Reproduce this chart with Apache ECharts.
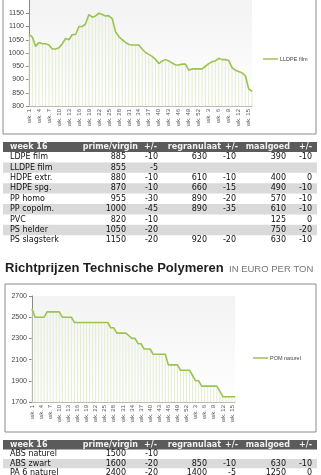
<!DOCTYPE html>
<html>
<head>
<meta charset="utf-8">
<script src="https://cdn.jsdelivr.net/npm/echarts@6/dist/echarts.min.js"></script>
<style>
  html, body { margin: 0; padding: 0; background: #fff; }
  #main { width: 321px; height: 475px; }
</style>
</head>
<body>
<div id="main"></div>
<script>
// weken: wk. 1 .. wk. 52, daarna wk. 1 .. wk. 16
const weeks = [];
for (let i = 1; i <= 52; i++) weeks.push('wk. ' + i);
for (let i = 1; i <= 16; i++) weeks.push('wk. ' + i);

const lldpeFilm = [1070,1060,1025,1040,1035,1035,1030,1015,1015,1020,
  1035,1055,1050,1070,1070,1100,1100,1110,1145,1135,
  1140,1150,1145,1140,1140,1130,1080,1062,1050,1040,
  1032,1030,1030,1030,1015,1002,995,987,976,960,
  970,975,970,962,955,955,958,958,935,940,
  940,940,940,950,960,967,970,980,975,975,
  972,945,935,930,925,915,865,855];

const pomNaturel = [2580,2500,2500,2500,2500,2550,2550,2550,2550,2550,
  2500,2500,2500,2500,2450,2450,2450,2450,2450,2450,
  2450,2450,2450,2450,2450,2450,2400,2400,2350,2350,
  2350,2350,2325,2300,2300,2250,2250,2200,2200,2200,
  2150,2150,2150,2150,2150,2050,2050,2050,2050,2000,
  2000,2000,2000,1950,1900,1900,1850,1850,1850,1850,
  1850,1850,1800,1750,1750,1750,1750,1750];

const tableHeader = ['week 16', 'prime/virgin', '+/-', 'regranulaat', '+/-', 'maalgoed', '+/-'];

// rijen: naam, prime/virgin, +/-, regranulaat, +/-, maalgoed, +/-
const standaardRows = [
  ['LDPE film', '885', '-10', '630', '-10', '390', '-10'],
  ['LLDPE film', '855', '-5', '', '', '', ''],
  ['HDPE extr.', '880', '-10', '610', '-10', '400', '0'],
  ['HDPE spg.', '870', '-10', '660', '-15', '490', '-10'],
  ['PP homo', '955', '-30', '890', '-20', '570', '-10'],
  ['PP copolm.', '1000', '-45', '890', '-35', '610', '-10'],
  ['PVC', '820', '-10', '', '', '125', '0'],
  ['PS helder', '1050', '-20', '', '', '750', '-20'],
  ['PS slagsterk', '1150', '-20', '920', '-20', '630', '-10']
];

const technischRows = [
  ['ABS naturel', '1500', '-10', '', '', '', ''],
  ['ABS zwart', '1600', '-20', '850', '-10', '630', '-10'],
  ['PA 6 naturel', '2400', '-20', '1400', '-5', '1250', '0']
];

const green = '#9bc34f';
const dropColor = '#e3edd2';
const tableFont = '"DejaVu Sans", sans-serif';

// kolomposities (rechts uitgelijnd behalve de naam)
const headerX = [10, 138, 157, 221, 238, 290, 312];
const cellX = [10, 126, 158, 207, 236, 286, 312];

function buildTable(top, headerH, rowH, rows) {
  const els = [];
  els.push({ type: 'rect', shape: { x: 3, y: top, width: 314, height: headerH },
    style: { fill: '#5b5b5b' } });
  tableHeader.forEach(function (h, c) {
    els.push({ type: 'text', x: headerX[c], y: top + headerH / 2,
      style: { text: h, fill: '#f2f2f2', font: 'bold 8px ' + tableFont,
        align: c === 0 ? 'left' : 'right', verticalAlign: 'middle' } });
  });
  rows.forEach(function (r, i) {
    const y0 = top + headerH + i * rowH;
    if (i % 2 === 1) {
      els.push({ type: 'rect', shape: { x: 3, y: y0, width: 314, height: rowH },
        style: { fill: '#dadada' } });
    }
    r.forEach(function (v, c) {
      if (v === '') return;
      els.push({ type: 'text', x: cellX[c], y: y0 + rowH / 2,
        style: { text: v, fill: '#111', font: '8px ' + tableFont,
          align: c === 0 ? 'left' : 'right', verticalAlign: 'middle' } });
    });
  });
  return els;
}

let myChart = echarts.init(document.getElementById('main'));

const yLabel = { fontSize: 7, color: '#444', margin: 5, fontFamily: 'Arial, sans-serif',
  showMaxLabel: false, formatter: function (v) { return String(v); } };
const yLabel2 = Object.assign({}, yLabel, { showMaxLabel: true });
const xLabel = { rotate: 90, fontSize: 6, color: '#555', interval: 2, margin: 3, fontFamily: 'Arial, sans-serif' };
const plotBg = new echarts.graphic.LinearGradient(0, 0, 0, 1, [
  { offset: 0, color: '#f3f3f3' }, { offset: 1, color: '#ffffff' }
]);

const graphics = [
  { type: 'rect', shape: { x: 3, y: -5, width: 313, height: 139 },
    style: { fill: 'none', stroke: '#8a8a8a', lineWidth: 1 }, z: 0 },
  { type: 'rect', shape: { x: 5, y: 284, width: 311, height: 148 },
    style: { fill: 'none', stroke: '#8a8a8a', lineWidth: 1 }, z: 0 },
  { type: 'text', x: 5, y: 268,
    style: { text: 'Richtprijzen Technische Polymeren', fill: '#1e1e1e',
      font: 'bold 13px "Liberation Sans Narrow", sans-serif', verticalAlign: 'middle' } },
  { type: 'text', x: 229, y: 269,
    style: { text: 'IN EURO PER TON', fill: '#777',
      font: '9.5px "Liberation Sans Narrow", sans-serif', verticalAlign: 'middle' } }
].concat(buildTable(142, 10, 10.4, standaardRows))
 .concat(buildTable(440, 9.5, 9.4, technischRows));

const option = {
  backgroundColor: '#fff',
  animation: false,
  graphic: graphics,
  legend: [
    { data: ['LLDPE film'], left: 263, top: 56, padding: 0, icon: 'rect', itemWidth: 15, itemHeight: 1.5,
      itemGap: 2, textStyle: { fontSize: 5.5, color: '#444', padding: [0, 0, 0, -3] } },
    { data: ['POM naturel'], left: 253, top: 355, padding: 0, icon: 'rect', itemWidth: 15, itemHeight: 1.5,
      itemGap: 2, textStyle: { fontSize: 5.5, color: '#444', padding: [0, 0, 0, -3] } }
  ],
  grid: [
    { left: 29, right: 69, top: -8, height: 114, show: true, backgroundColor: plotBg, borderWidth: 0 },
    { left: 32, right: 86, top: 296, height: 106, show: true, backgroundColor: plotBg, borderWidth: 0 }
  ],
  xAxis: [
    { type: 'category', gridIndex: 0, data: weeks, boundaryGap: false,
      axisLine: { lineStyle: { color: '#bbb' } }, axisTick: { show: false }, axisLabel: xLabel },
    { type: 'category', gridIndex: 1, data: weeks, boundaryGap: false,
      axisLine: { lineStyle: { color: '#bbb' } }, axisTick: { show: false }, axisLabel: xLabel }
  ],
  yAxis: [
    { type: 'value', gridIndex: 0, min: 800, max: 1200, interval: 50,
      axisLine: { show: true, lineStyle: { color: '#888' } },
      axisTick: { show: true, length: 3, lineStyle: { color: '#888' } },
      splitLine: { show: false }, axisLabel: yLabel },
    { type: 'value', gridIndex: 1, min: 1700, max: 2700, interval: 200,
      axisLine: { show: true, lineStyle: { color: '#888' } },
      axisTick: { show: true, length: 3, lineStyle: { color: '#888' } },
      splitLine: { show: false }, axisLabel: yLabel2 }
  ],
  series: [
    { type: 'bar', xAxisIndex: 0, yAxisIndex: 0, data: lldpeFilm, barWidth: 1,
      itemStyle: { color: dropColor }, silent: true },
    { name: 'LLDPE film', type: 'line', xAxisIndex: 0, yAxisIndex: 0, data: lldpeFilm,
      showSymbol: false, lineStyle: { color: green, width: 1.6 }, itemStyle: { color: green } },
    { type: 'bar', xAxisIndex: 1, yAxisIndex: 1, data: pomNaturel, barWidth: 1,
      itemStyle: { color: dropColor }, silent: true },
    { name: 'POM naturel', type: 'line', xAxisIndex: 1, yAxisIndex: 1, data: pomNaturel,
      showSymbol: false, lineStyle: { color: green, width: 1.6 }, itemStyle: { color: green } }
  ]
};

myChart.setOption(option);
</script>
</body>
</html>
